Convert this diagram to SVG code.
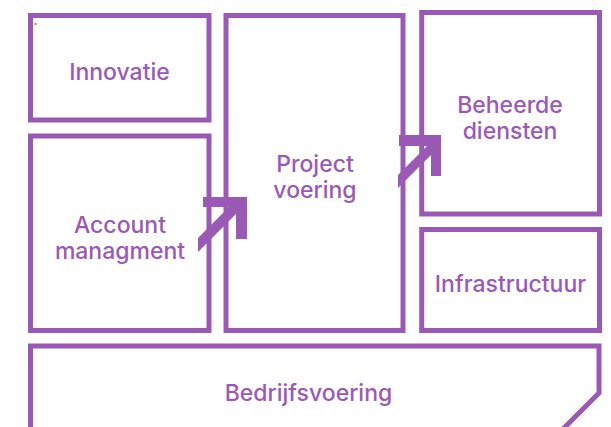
<svg xmlns="http://www.w3.org/2000/svg" width="611" height="427" viewBox="0 0 611 427">
<style>
.box{fill:#ffffff;stroke:#9b59b6;stroke-width:5}
.lbl{font-family:Inter,"Liberation Sans",sans-serif;font-size:23px;font-weight:500;fill:#9b59b6;text-anchor:middle}
.arr{fill:#9b59b6}
</style>
<rect width="611" height="427" fill="#ffffff"/>
<g id="innovatie">
<rect class="box" x="30.5" y="15.5" width="178.5" height="104.5"/>
<text class="lbl" x="119.5" y="80">Innovatie</text>
</g>
<g id="account">
<rect class="box" x="30.5" y="136" width="178.5" height="194.5"/>
<text class="lbl" x="120" y="233">Account</text>
<text class="lbl" x="120" y="259">managment</text>
</g>
<g id="project">
<rect class="box" x="226" y="15.5" width="177" height="315"/>
<text class="lbl" x="315" y="172">Project</text>
<text class="lbl" x="315" y="198">voering</text>
</g>
<g id="beheerde">
<rect class="box" x="421.7" y="12.5" width="177.8" height="201.5"/>
<text class="lbl" x="510" y="112.5">Beheerde</text>
<text class="lbl" x="510" y="138.5">diensten</text>
</g>
<g id="infrastructuur">
<rect class="box" x="421.7" y="229.5" width="177.8" height="101"/>
<text class="lbl" x="510.5" y="292">Infrastructuur</text>
</g>
<g id="bedrijfsvoering">
<path class="box" d="M30.5,432 V346 H599 V393 L560,432"/>
<text class="lbl" x="308.5" y="400.5">Bedrijfsvoering</text>
</g>
<g id="connectors">
<polygon class="arr" points="203,197 247,197 247,239 236,239 236,214 198,252 198,238 229,207 203,207"/>
<polygon class="arr" points="399,135 441,135 441,176 431,176 431,155 398,188 398,175 427,146 399,146"/>
</g>
<rect x="34.5" y="23" width="2" height="2" fill="#e67e22"/>
</svg>
